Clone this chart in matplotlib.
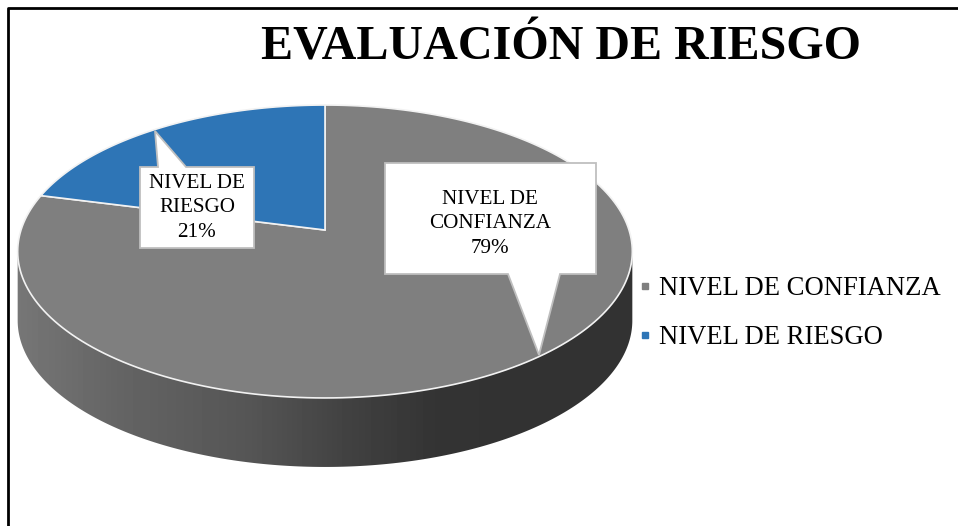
import numpy as np
import matplotlib.pyplot as plt
from matplotlib.lines import Line2D
from matplotlib.patches import Polygon

plt.rcParams['font.family'] = ['Liberation Serif', 'DejaVu Serif']

titulo = 'EVALUACIÓN DE RIESGO'
categorias = ['NIVEL DE CONFIANZA', 'NIVEL DE RIESGO']
valores = [79, 21]
colores = ['#7f7f7f', '#2e75b6']

# geometria del pastel 3D en pixeles
cx, cy = 325, 230
A, B, k = 304, 143.3, 0.1468
prof = 69


def proyectar(ang):
    # ang medido desde arriba en sentido horario
    u = np.sin(ang)
    v = np.cos(ang)
    d = 1 + k * v
    return cx + A * u / d, cy - B * v / d


fig = plt.figure(figsize=(9.58, 5.26), dpi=100)
ax = fig.add_axes([0, 0, 1, 1])

# lado del cilindro con degradado
t0 = np.arccos(-k)
t = np.linspace(t0, 2 * np.pi - t0, 300)
x, y = proyectar(t)
lado = np.column_stack([np.r_[x, x[::-1]], np.r_[y, y[::-1] + prof]])
grad = np.interp(np.arange(958), [18, 120, 250, 350, 440, 632],
                 [118, 100, 85, 65, 51, 50]) / 255
im = ax.imshow(grad[np.newaxis, :], cmap='gray', vmin=0, vmax=1, aspect='auto',
               extent=[0, 958, 526, 0], zorder=1)
poly = Polygon(lado, closed=True, fc='none', ec='none', transform=ax.transData)
ax.add_patch(poly)
im.set_clip_path(poly)

# tajadas
frac = np.cumsum([0] + valores) / sum(valores)
for i in range(len(valores)):
    t = np.linspace(frac[i], frac[i + 1], 200) * 2 * np.pi
    x, y = proyectar(t)
    ax.fill(np.r_[cx, x], np.r_[cy, y], color=colores[i], ec='#f2f2f2', lw=1.2, zorder=2)

# etiquetas tipo globo
globo1 = [(140, 167), (158, 167), (155, 131), (186, 167), (254, 167), (254, 248), (140, 248)]
globo2 = [(385, 163), (596, 163), (596, 274), (560, 274), (539, 355), (508, 274), (385, 274)]
ax.add_patch(Polygon(globo1, fc='white', ec='#bfbfbf', lw=1.3, zorder=3))
ax.add_patch(Polygon(globo2, fc='white', ec='#bfbfbf', lw=1.3, zorder=3))
ax.text(197, 208, 'NIVEL DE\nRIESGO\n%d%%' % valores[1], ha='center', va='center',
        fontsize=15.2, linespacing=1.4, zorder=4)
ax.text(490, 224, 'NIVEL DE\nCONFIANZA\n%d%%' % valores[0], ha='center', va='center',
        fontsize=15.2, linespacing=1.4, zorder=4)

ax.text(561, 59, titulo, ha='center', va='baseline', fontsize=34.6, fontweight='bold', zorder=4)

# leyenda
marcas = [Line2D([], [], ls='', marker='s', ms=5, color=c) for c in colores]
ax.legend(marcas, categorias, loc='upper left', bbox_to_anchor=(638 / 958, 1 - 276 / 526),
          frameon=False, fontsize=19.2, handlelength=0.5, handletextpad=0.3, labelspacing=0.9,
          borderpad=0, borderaxespad=0)

# marco
ax.plot([8, 8, 958], [526, 8, 8], color='black', lw=2, zorder=5)

ax.set_xlim(0, 958)
ax.set_ylim(526, 0)
ax.axis('off')

fig.savefig('out.png', dpi=100)
